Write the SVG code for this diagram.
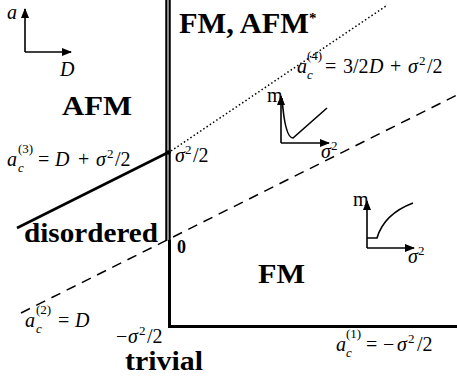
<svg xmlns="http://www.w3.org/2000/svg" width="457" height="382" viewBox="0 0 457 382">
<style>
.b{font-family:"Liberation Serif",serif;font-weight:bold;fill:#000}
.m{font-family:"Liberation Serif",serif;fill:#000;font-size:20px}
.i{font-style:italic}
.s{font-size:13px}
.ax{stroke:#000;stroke-width:1.6;fill:none}
</style>
<defs>
<marker id="ah" viewBox="0 0 10 8" refX="9" refY="4" markerWidth="10" markerHeight="8" markerUnits="userSpaceOnUse" orient="auto">
<path d="M0,0 L10,4 L0,8 Z" fill="#000"/>
</marker>
</defs>
<rect width="457" height="382" fill="#fff"/>
<g id="connectors">
<line x1="168" y1="0" x2="168" y2="241" stroke="#000" stroke-width="5.5"/>
<line x1="168" y1="0" x2="168" y2="241" stroke="#8a8a8a" stroke-width="2"/>
<path d="M169.5,240 L169.5,326.5 L457,326.5" fill="none" stroke="#000" stroke-width="3"/>
<line x1="17" y1="228" x2="168" y2="152.5" stroke="#000" stroke-width="2.6"/>
<circle cx="168.5" cy="152.5" r="2.2" fill="#000"/>
<line x1="171" y1="151" x2="386" y2="6" stroke="#000" stroke-width="1.5" stroke-dasharray="1.5 2.4"/>
<line x1="21" y1="313" x2="457" y2="95" stroke="#000" stroke-width="1.5" stroke-dasharray="10 7"/>
</g>
<g id="mini-axes">
<line class="ax" x1="25" y1="52" x2="25" y2="9" marker-end="url(#ah)"/>
<line class="ax" x1="25" y1="52" x2="71" y2="52" marker-end="url(#ah)"/>
<text class="m i" x="7" y="19">a</text>
<text class="m i" x="60" y="76">D</text>
</g>
<g id="FM-AFM-star"><text class="b" x="179" y="33" font-size="29" textLength="130" lengthAdjust="spacingAndGlyphs">FM, AFM</text><text class="b" x="309" y="23" font-size="15">*</text></g>
<g id="AFM"><text class="b" x="62" y="115" font-size="27" textLength="70" lengthAdjust="spacingAndGlyphs">AFM</text></g>
<g id="disordered"><text class="b" x="24" y="242" font-size="27" textLength="134" lengthAdjust="spacingAndGlyphs">disordered</text></g>
<g id="FM"><text class="b" x="258" y="283" font-size="27" textLength="47" lengthAdjust="spacingAndGlyphs">FM</text></g>
<g id="trivial"><text class="b" x="125" y="370" font-size="27" textLength="78" lengthAdjust="spacingAndGlyphs">trivial</text></g>
<g id="zero"><text class="b" x="177" y="253" font-size="18">0</text></g>
<g id="label-ac3">
<text class="m i" x="7" y="166">a</text>
<text class="m i s" x="18" y="172">c</text>
<text class="m s" x="18" y="153">(3)</text>
<text class="m" y="166"><tspan x="38">=</tspan><tspan x="55" class="i">D</tspan><tspan x="78">+</tspan><tspan x="96" class="i">σ</tspan><tspan x="107" class="s" dy="-8">2</tspan><tspan x="115" dy="8">/2</tspan></text>
</g>
<g id="label-sigma-half"><text class="m" y="162"><tspan x="175" class="i">σ</tspan><tspan x="185" class="s" dy="-8">2</tspan><tspan x="193" dy="8">/2</tspan></text></g>
<g id="label-ac4">
<text class="m i" x="297" y="73">a</text>
<text class="m i s" x="307" y="79">c</text>
<text class="m s" x="307" y="60">(4)</text>
<text class="m" y="73"><tspan x="325">=</tspan><tspan x="343">3/2</tspan><tspan x="369" class="i">D</tspan><tspan x="390">+</tspan><tspan x="408" class="i">σ</tspan><tspan x="419" class="s" dy="-8">2</tspan><tspan x="427" dy="8">/2</tspan></text>
</g>
<g id="label-ac2">
<text class="m i" x="25" y="327">a</text>
<text class="m i s" x="36" y="333">c</text>
<text class="m s" x="36" y="314">(2)</text>
<text class="m" y="327"><tspan x="58">=</tspan><tspan x="75" class="i">D</tspan></text>
</g>
<g id="label-minus-sigma-half"><text class="m" y="343"><tspan x="116">−</tspan><tspan x="128" class="i">σ</tspan><tspan x="139" class="s" dy="-8">2</tspan><tspan x="147" dy="8">/2</tspan></text></g>
<g id="label-ac1">
<text class="m i" x="336" y="351">a</text>
<text class="m i s" x="346" y="357">c</text>
<text class="m s" x="346" y="338">(1)</text>
<text class="m" y="351"><tspan x="366">=</tspan><tspan x="383">−</tspan><tspan x="397" class="i">σ</tspan><tspan x="408" class="s" dy="-8">2</tspan><tspan x="417" dy="8">/2</tspan></text>
</g>
<g id="inset-1">
<line class="ax" x1="281" y1="143" x2="281" y2="96" marker-end="url(#ah)"/>
<line class="ax" x1="281" y1="143" x2="329" y2="143" marker-end="url(#ah)"/>
<path class="ax" d="M282,98 Q285,138 293,138 L327,108"/>
<text class="m" x="267" y="102" font-size="15">m</text>
<text class="m" x="321" y="158"><tspan class="i">σ</tspan><tspan class="s" dy="-8">2</tspan></text>
</g>
<g id="inset-2">
<line class="ax" x1="367" y1="248" x2="367" y2="201" marker-end="url(#ah)"/>
<line class="ax" x1="367" y1="248" x2="414" y2="248" marker-end="url(#ah)"/>
<path class="ax" d="M367,238 L377,238 Q384,214 413,203"/>
<text class="m" x="353" y="206" font-size="15">m</text>
<text class="m" x="408" y="263"><tspan class="i">σ</tspan><tspan class="s" dy="-8">2</tspan></text>
</g>
</svg>
